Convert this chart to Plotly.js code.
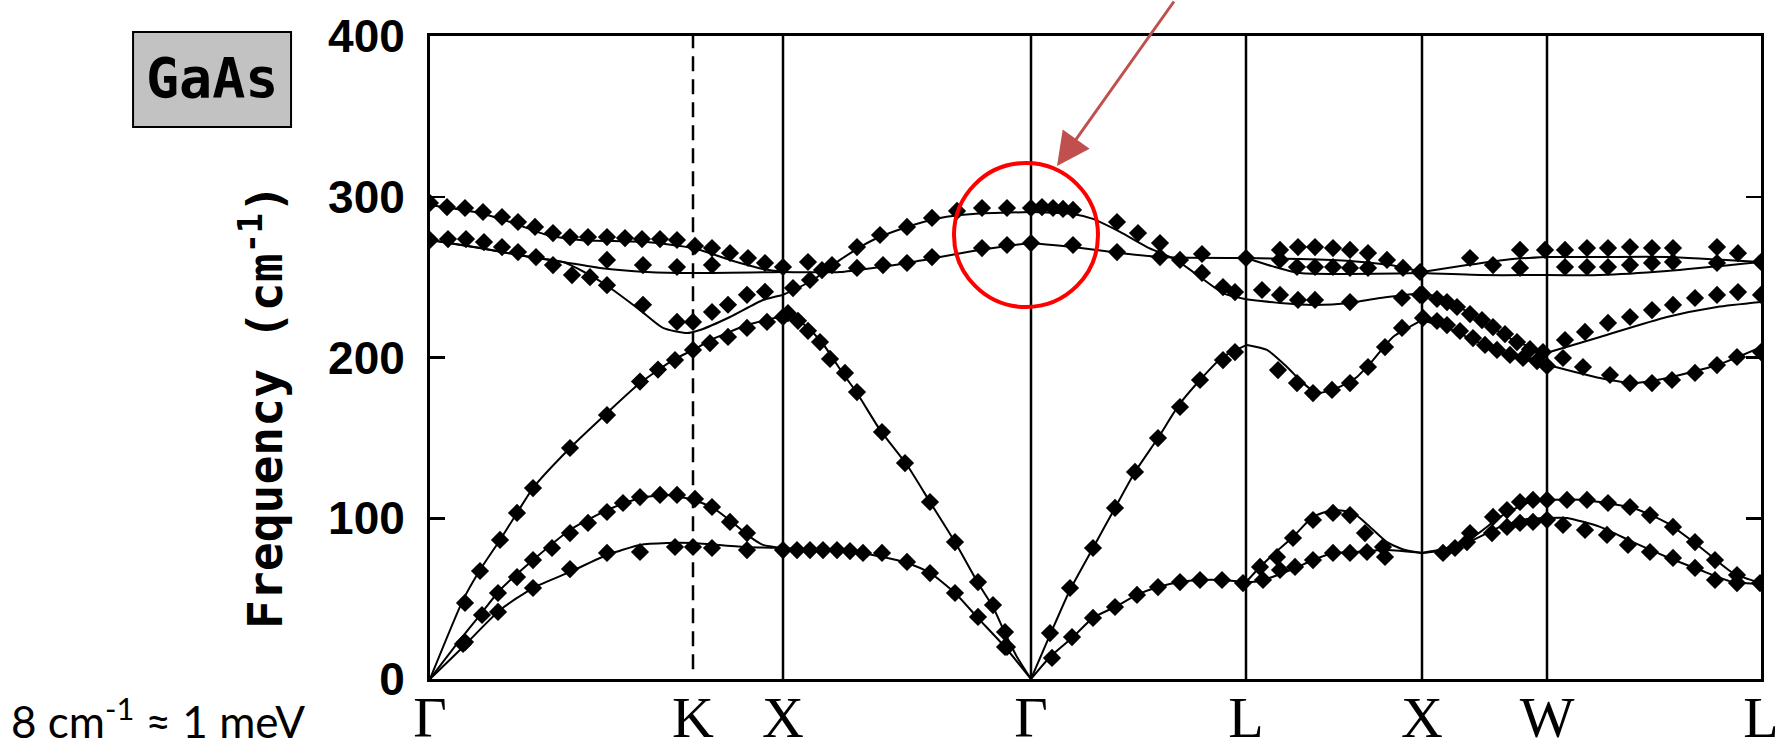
<!DOCTYPE html>
<html>
<head>
<meta charset="utf-8">
<script src="https://cdn.plot.ly/plotly-3.0.1.min.js"></script>
<style>html,body{margin:0;padding:0;background:#fff}#chart{width:1775px;height:748px}</style>
</head>
<body>
<div id="chart"></div>
<script>
// path positions of the symmetry points (arbitrary path units) and their labels
var kPath = [0, 263, 353, 601, 816, 992, 1117, 1331];
var kLabels = ['Γ', 'K', 'X', 'Γ', 'L', 'X', 'W', 'L'];
var yTicks = [0, 100, 200, 300, 400];

// theory curves, [q, frequency cm-1]
// Γ - K - X
var s1LO  = [[0,294.9],[50,289.9],[83,283.7],[117,276.2],[150,273.1],[217,271.8],[263,268.1],[300,260.7],[333,255.1],[353,253.2]];
var s1TO  = [[0,273.1],[50,268.1],[100,262.5],[133,259.4],[170,255.7],[217,253.2],[263,252.5],[353,253.2]];
var s1DIP = [[0,273.1],[50,268.1],[100,262.5],[133,259.4],[163,250.1],[183,242.0],[210,229.5],[233,218.4],[257,215.2],[270,217.1],[300,225.2],[333,235.8],[353,238.9]];
var s1LA  = [[0,0],[33,49.1],[50,67.8],[70,86.5],[87,103.3],[103,118.8],[140,143.7],[177,165.5],[210,184.1],[243,198.4],[263,204.7],[283,211.5],[317,220.2],[353,225.8]];
var s1TA2 = [[0,0],[30,24.3],[50,39.8],[70,55.4],[103,74.0],[140,92.7],[177,105.1],[210,112.6],[237,114.5],[263,111.4],[283,106.4],[303,97.1],[320,88.4],[333,83.4],[353,81.5]];
var s1TA1 = [[0,0],[33,19.9],[70,42.9],[103,56.6],[140,66.6],[177,77.1],[210,83.4],[237,84.6],[263,84.6],[317,82.1],[353,81.5]];
// X - Γ
var s2LO = [[353,238.9],[383,248.2],[410,260.7],[443,273.1],[477,281.2],[510,286.8],[543,289.3],[601,290.5]];
var s2TO = [[353,253.2],[410,253.2],[443,255.7],[477,258.8],[510,262.5],[543,266.2],[577,269.4],[601,271.2]];
var s2LA = [[353,225.8],[360,226.4],[377,219.0],[393,208.4],[413,190.0],[427,177.9],[450,155.0],[477,133.1],[500,110.1],[525,85.2],[548,59.7],[563,44.8],[575,28.6],[587,13.7],[601,0]];
var s2TA = [[353,81.5],[383,80.2],[430,78.4],[453,75.9],[477,72.2],[500,66.0],[525,53.5],[548,37.9],[575,19.9],[601,0]];
// Γ - L
var s3LO = [[601,290.5],[643,289.3],[663,286.2],[690,278.1],[717,268.7],[745,261.0],[770,250.1],[793,240.1],[816,236.2]];
var s3TO = [[601,271.2],[643,268.7],[690,265.0],[730,262.5],[816,261.9]];
var s3LA = [[601,0],[620,27.4],[640,55.4],[663,81.5],[685,106.4],[705,128.8],[728,149.9],[749,170.5],[770,186.0],[792,200.0],[817,207.8]];
var s3TA = [[601,0],[620,13.7],[643,26.1],[663,38.0],[685,44.8],[707,52.3],[728,57.2],[750,60.3],[770,61.6],[793,61.6],[816,60.3]];
// L - X
var s4TOa = [[816,261.9],[870,261.3],[920,260.1],[960,257.5],[992,253.2]];
var s4TOb = [[816,261.9],[845,256.3],[870,252.5],[992,252.5]];
var s4LO  = [[816,236.2],[850,233.9],[883,232.7],[920,233.9],[950,237.0],[992,240.1]];
var s4LA  = [[817,207.8],[837,204.7],[857,194.1],[873,184.1],[887,177.9],[907,181.0],[927,187.9],[943,198.4],[963,212.8],[992,223.3]];
var s4TA2 = [[816,60.3],[830,69.7],[848,80.2],[863,88.4],[883,100.8],[903,105.1],[923,103.3],[940,94.6],[957,85.2],[975,80.2],[992,78.4]];
var s4TA1 = [[816,60.3],[830,61.0],[863,68.4],[883,74.0],[903,78.4],[923,79.0],[957,80.2],[992,78.4]];
// X - W
var s5TOa = [[992,253.2],[1037,257.5],[1083,261.3],[1117,262.5]];
var s5TOb = [[992,252.5],[1050,251.3],[1117,251.3]];
var s5LO  = [[992,240.1],[1017,235.8],[1050,223.3],[1083,210.9],[1117,203.0]];
var s5LA  = [[992,223.3],[1017,218.4],[1050,209.0],[1083,200.3],[1117,195.5]];
var s5TA2 = [[992,78.4],[1017,81.5],[1043,88.3],[1070,100.8],[1097,109.5],[1117,111.4]];
var s5TA1 = [[992,78.4],[1017,80.2],[1043,86.5],[1070,94.6],[1097,99.5],[1117,100.2]];
// W - L
var s6TOa = [[1117,262.5],[1170,262.5],[1237,262.5],[1331,259.4]];
var s6TOb = [[1117,251.3],[1170,251.3],[1237,253.8],[1331,259.4]];
var s6LO  = [[1117,203.0],[1170,212.8],[1237,225.2],[1287,231.4],[1331,234.5]];
var s6LA  = [[1117,195.5],[1170,187.2],[1203,184.1],[1237,187.2],[1287,195.3],[1331,206.5]];
var s6TA2 = [[1117,111.4],[1153,111.4],[1203,106.4],[1237,97.1],[1270,82.1],[1303,65.9],[1331,59.7]];
var s6TA1 = [[1117,100.2],[1137,100.2],[1170,94.6],[1203,85.2],[1237,75.9],[1270,67.8],[1303,60.3],[1331,59.1]];

// measured points (diamonds)
var m1LO  = [[0,296.1],[17,293.6],[35,293.0],[53,290.5],[72,287.4],[88,284.3],[105,281.2],[123,277.4],[140,274.9],[158,274.9],[177,274.9],[195,274.3],[212,273.7],[230,273.7],[247,273.1],[265,269.4],[282,268.1],[300,265.0],[318,261.9],[335,258.8],[353,256.3]];
var m1TO  = [[0,273.1],[18,273.7],[36,273.7],[54,271.8],[72,268.7],[88,265.6],[106,262.5],[177,260.7],[213,257.5],[247,256.3],[282,257.5]];
var m1DIP = [[123,257.5],[142,251.3],[160,250.0],[177,245.0],[213,232.8],[247,222.1],[263,222.1],[282,228.3],[298,232.8],[317,239.0],[335,240.9]];
var m1LA  = [[35,47.3],[50,67.2],[70,86.5],[87,103.3],[103,118.8],[140,143.7],[177,164.2],[210,185.0],[228,192.5],[245,198.4],[263,204.7],[280,209.0],[298,212.8],[317,218.4],[337,222.1],[353,225.2]];
var m1TA2 = [[35,23.0],[52,39.8],[68,53.5],[87,63.4],[103,74.0],[122,81.5],[140,90.8],[158,97.1],[177,103.9],[193,109.5],[210,113.2],[230,114.5],[247,114.5],[265,112.0],[282,107.0],[300,97.7],[317,90.8]];
var m1TA1 = [[33,21.8],[68,41.7],[103,56.6],[140,68.4],[177,78.4],[210,79.0],[245,82.1],[263,82.1],[282,81.5],[317,80.2]];
var m2LO  = [[363,243.2],[380,248.2],[392,254.4],[402,257.5],[427,268.7],[450,276.2],[477,281.2],[502,286.8],[527,291.2],[552,293.0],[577,293.0],[601,293.0]];
var m2TO  = [[378,259.4],[427,255.7],[453,257.5],[477,258.8],[502,262.5],[552,268.1],[577,270.0],[601,271.2]];
var m2LA  = [[358,227.6],[368,222.8],[378,216.6],[390,209.6],[400,199.1],[415,190.4],[427,178.5],[452,153.6],[475,134.3],[500,110.1],[525,85.2],[548,60.3],[563,46.0],[575,29.2],[577,19.9]];
var m2TA  = [[353,80.2],[367,80.2],[380,80.2],[393,80.2],[407,80.2],[420,79.6],[433,78.4],[452,78.4],[477,72.8],[500,65.9],[525,53.5],[548,38.6],[575,19.9]];
var m3LO  = [[612,293.6],[623,293.0],[633,292.4],[643,291.8],[687,284.3],[708,277.4],[730,271.2],[750,260.7],[772,252.6],[793,243.8],[805,240.7]];
var m3TO  = [[643,270.0],[687,265.6],[730,262.5],[772,264.4],[816,261.9]];
var m3LA  = [[620,28.6],[640,56.6],[663,81.5],[685,106.4],[705,128.8],[728,149.9],[750,169.2],[770,186.0],[793,198.4],[805,203.4]];
var m3TA  = [[622,13.1],[642,26.1],[663,38.0],[685,44.8],[707,52.3],[728,57.2],[750,60.3],[770,61.6],[792,61.6],[813,59.7]];
var m4TOa = [[850,266.9],[868,268.7],[885,268.7],[903,268.1],[920,266.9],[938,265.0],[957,260.7],[973,255.7],[990,253.2]];
var m4TOb = [[850,260.7],[867,256.3],[885,256.3],[903,256.3],[920,255.7],[938,255.7]];
var m4LO  = [[832,242.0],[850,238.9],[868,235.8],[885,235.8],[920,234.5],[972,237.0],[990,238.9]];
var m4LA  = [[848,192.2],[867,184.1],[883,177.9],[902,179.8],[920,184.1],[938,194.1],[955,206.5],[972,218.4]];
var m4TA2 = [[830,69.7],[847,75.9],[863,87.7],[883,98.9],[903,103.3],[920,102.0],[935,90.8],[953,82.1]];
var m4TA1 = [[833,61.6],[850,67.8],[865,69.7],[883,74.0],[903,78.4],[920,78.4],[937,79.0],[955,75.9]];
var m5TO  = [[1040,261.9],[1063,257.5],[1090,266.9],[1090,255.7],[1115,266.9]];
var m5LO  = [[993,238.9],[1007,236.4],[1017,234.5],[1027,231.4],[1040,227.0],[1052,223.3],[1063,218.9],[1075,214.6],[1087,209.6],[1100,205.2],[1113,203.4]];
var m5LA  = [[993,224.6],[1007,222.7],[1017,220.2],[1030,216.5],[1043,212.1],[1055,207.8],[1067,204.7],[1080,201.6],[1093,199.7],[1107,197.8],[1117,194.7]];
var m5TA2 = [[1013,78.4],[1025,81.5],[1037,85.2],[1040,90.8],[1063,100.8],[1077,105.1],[1090,110.1],[1103,111.4],[1117,111.4]];
var m5TA1 = [[1062,90.8],[1077,94.6],[1090,97.1],[1103,97.7],[1117,99.0]];
var m6TOa = [[1135,266.9],[1157,268.1],[1178,268.1],[1200,268.7],[1222,268.1],[1243,268.1],[1287,268.7],[1308,264.9],[1331,259.4]];
var m6TOb = [[1135,256.3],[1157,256.3],[1178,256.3],[1200,257.5],[1222,258.8],[1243,259.4],[1287,258.8]];
var m6LO  = [[1135,210.9],[1155,215.9],[1178,221.5],[1200,225.2],[1222,229.5],[1243,232.7],[1265,237.0],[1287,238.9],[1308,240.7],[1331,238.9]];
var m6LA  = [[1133,199.7],[1153,194.1],[1180,189.1],[1200,184.1],[1222,184.1],[1242,186.0],[1265,190.4],[1287,195.3],[1307,200.3],[1331,203.4]];
var m6TA2 = [[1137,111.4],[1157,111.4],[1178,109.5],[1200,107.0],[1220,102.0],[1243,94.6],[1265,85.2],[1285,74.0],[1307,64.7]];
var m6TA1 = [[1133,95.8],[1155,92.7],[1177,89.6],[1198,83.4],[1220,79.0],[1243,75.3],[1265,69.1],[1285,61.6],[1307,59.7],[1330,59.7]];

var curves = [s1LO, s1TO, s1DIP, s1LA, s1TA2, s1TA1,
              s2LO, s2TO, s2LA, s2TA,
              s3LO, s3TO, s3LA, s3TA,
              s4TOa, s4TOb, s4LO, s4LA, s4TA2, s4TA1,
              s5TOa, s5TOb, s5LO, s5LA, s5TA2, s5TA1,
              s6TOa, s6TOb, s6LO, s6LA, s6TA2, s6TA1];
var points = [].concat(m1LO, m1TO, m1DIP, m1LA, m1TA2, m1TA1,
                       m2LO, m2TO, m2LA, m2TA,
                       m3LO, m3TO, m3LA, m3TA,
                       m4TOa, m4TOb, m4LO, m4LA, m4TA2, m4TA1,
                       m5TO, m5LO, m5LA, m5TA2, m5TA1,
                       m6TOa, m6TOb, m6LO, m6LA, m6TA2, m6TA1);

var data = curves.map(function (c) {
  return {
    x: c.map(function (p) { return p[0]; }),
    y: c.map(function (p) { return p[1]; }),
    mode: 'lines',
    type: 'scatter',
    line: {color: 'black', width: 2, shape: 'spline', smoothing: 0.6},
    hoverinfo: 'skip'
  };
});
data.push({
  x: points.map(function (p) { return p[0]; }),
  y: points.map(function (p) { return p[1]; }),
  mode: 'markers',
  type: 'scatter',
  marker: {symbol: 'diamond', size: 14, color: 'black'},
  hoverinfo: 'skip'
});

// vertical lines at the symmetry points (K dashed)
var shapes = kPath.slice(1, -1).map(function (k, i) {
  return {
    type: 'line', xref: 'x', yref: 'paper', x0: k, x1: k,
    y0: i === 0 ? 0.015 : 0, y1: 1, layer: 'below',
    line: {color: 'black', width: 2.5, dash: i === 0 ? '15px,8px' : 'solid'}
  };
});
// red circle around the optical modes at Γ
shapes.push({type: 'circle', xref: 'x', yref: 'y', x0: 524, x1: 668, y0: 231.4, y1: 321,
  line: {color: '#ff0000', width: 4}});
// GaAs label box
shapes.push({type: 'rect', xref: 'paper', yref: 'paper', x0: -0.2231, x1: -0.1044, y0: 0.8585, y1: 1.0062,
  fillcolor: '#c2c2c2', line: {color: 'black', width: 2}});

var layout = {
  width: 1775,
  height: 748,
  margin: {l: 430, r: 14, t: 36, b: 69},
  paper_bgcolor: 'white',
  plot_bgcolor: 'white',
  showlegend: false,
  xaxis: {
    range: [0, 1331],
    tickvals: kPath,
    ticktext: kLabels,
    ticks: '',
    showgrid: false,
    zeroline: false,
    showline: true,
    mirror: true,
    linecolor: 'black',
    linewidth: 3,
    ticklabelstandoff: -15,
    ticklabeloverflow: 'allow',
    tickfont: {family: 'Liberation Serif', size: 58, color: 'black'}
  },
  yaxis: {
    range: [0, 400],
    tickvals: yTicks,
    ticks: 'inside',
    ticklen: 15,
    tickwidth: 2.5,
    tickcolor: 'black',
    showgrid: false,
    zeroline: false,
    showline: true,
    mirror: 'ticks',
    linecolor: 'black',
    linewidth: 3,
    ticklabelstandoff: 13,
    tickfont: {family: 'Liberation Sans', size: 46, color: 'black', weight: 'bold'}
  },
  shapes: shapes,
  annotations: [
    {xref: 'paper', yref: 'paper', x: -0.1262, y: 0.423, xanchor: 'center', yanchor: 'middle',
     text: 'Frequency (cm<sup>-1</sup>)', textangle: -90, showarrow: false,
     font: {family: 'DejaVu Sans Mono', size: 48, color: 'black', weight: 'bold'}},
    {xref: 'paper', yref: 'paper', x: -0.1638, y: 0.9347, xanchor: 'center', yanchor: 'middle',
     text: 'GaAs', showarrow: false,
     font: {family: 'DejaVu Sans Mono', size: 55, color: 'black', weight: 'bold'}},
    {xref: 'paper', yref: 'paper', x: -0.316, y: -0.062, xanchor: 'left', yanchor: 'middle',
     text: '8 cm<sup>-1</sup> ≈ 1 meV', showarrow: false,
     font: {family: 'Lato', size: 44, color: 'black'}},
    {xref: 'paper', yref: 'paper', x: 0.4711, y: 0.7978, text: '', showarrow: true,
     ax: 118, ay: -171, arrowcolor: '#c0504d', arrowwidth: 3, arrowhead: 2, arrowsize: 2.2, standoff: 0}
  ]
};

Plotly.newPlot('chart', data, layout, {displayModeBar: false, staticPlot: true});
</script>
</body>
</html>
